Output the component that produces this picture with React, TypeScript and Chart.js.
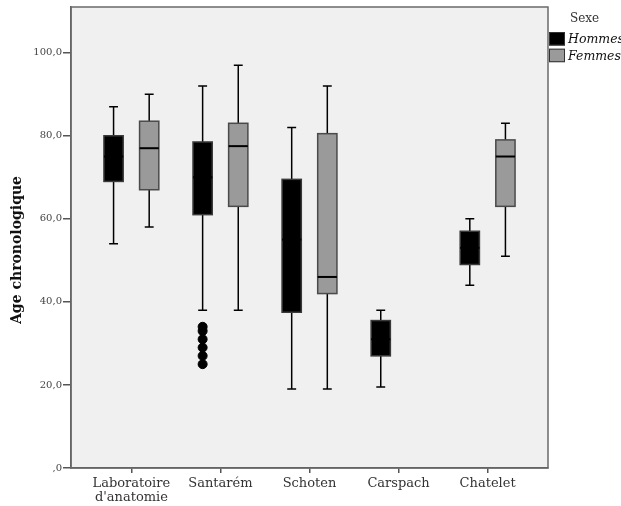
import React, { useEffect, useRef } from "react";
import { Chart, registerables } from "chart.js";

Chart.register(...registerables);

const categories: (string | string[])[] = [["Laboratoire", "d'anatomie"], "Santarém", "Schoten", "Carspach", "Chatelet"];
const yTickValues = [0, 20, 40, 60, 80, 100];

const hommesMin = [54, 38, 19, 19.5, 44];
const hommesQ1 = [69, 61, 37.5, 27, 49];
const hommesMedian = [75, 70, 55, 31, 53];
const hommesQ3 = [80, 78.5, 69.5, 35.5, 57];
const hommesMax = [87, 92, 82, 38, 60];

const femmesMin: (number | null)[] = [58, 38, 19, null, 51];
const femmesQ1: (number | null)[] = [67, 63, 42, null, 63];
const femmesMedian: (number | null)[] = [77, 77.5, 46, null, 75];
const femmesQ3: (number | null)[] = [83.5, 83, 80.5, null, 79];
const femmesMax: (number | null)[] = [90, 97, 92, null, 83];

const hommesOutlierCategory = 1;
const hommesOutliers = [34, 33, 31, 29, 27, 25];

const legendTitle = "Sexe";
const seriesNames = ["Hommes", "Femmes"];

const GROUP_OFFSET = 0.2;
const BOX_HALF = 0.108;
const CAP_HALF = 0.05;
const FONT = "'DejaVu Serif', 'Liberation Serif', serif";

const boxPlugin = {
  id: "boxes",
  beforeDraw(chart: any) {
    const { ctx, chartArea: a } = chart;
    ctx.save();
    ctx.fillStyle = "#f0f0f0";
    ctx.fillRect(a.left, a.top, a.right - a.left, a.bottom - a.top);
    ctx.restore();
  },
  beforeDatasetsDraw(chart: any) {
    const { ctx, chartArea: a } = chart;
    const xs = chart.scales.x;
    const ys = chart.scales.y;
    const drawBox = (
      cx: number,
      mn: number, q1: number, med: number, q3: number, mx: number,
      fill: string, stroke: string
    ) => {
      const px = xs.getPixelForValue(cx);
      const l = xs.getPixelForValue(cx - BOX_HALF);
      const r = xs.getPixelForValue(cx + BOX_HALF);
      const cl = xs.getPixelForValue(cx - CAP_HALF);
      const cr = xs.getPixelForValue(cx + CAP_HALF);
      const yMin = ys.getPixelForValue(mn);
      const yMax = ys.getPixelForValue(mx);
      const yQ1 = ys.getPixelForValue(q1);
      const yQ3 = ys.getPixelForValue(q3);
      const yMed = ys.getPixelForValue(med);
      ctx.strokeStyle = "#000";
      ctx.lineWidth = 1.5;
      ctx.beginPath();
      ctx.moveTo(px, yMax); ctx.lineTo(px, yQ3);
      ctx.moveTo(px, yQ1); ctx.lineTo(px, yMin);
      ctx.moveTo(cl, yMax); ctx.lineTo(cr, yMax);
      ctx.moveTo(cl, yMin); ctx.lineTo(cr, yMin);
      ctx.stroke();
      ctx.fillStyle = fill;
      ctx.fillRect(l, yQ3, r - l, yQ1 - yQ3);
      ctx.strokeStyle = stroke;
      ctx.lineWidth = 1.5;
      ctx.strokeRect(l, yQ3, r - l, yQ1 - yQ3);
      ctx.strokeStyle = "#000";
      ctx.lineWidth = 2;
      ctx.beginPath();
      ctx.moveTo(l, yMed); ctx.lineTo(r, yMed);
      ctx.stroke();
    };
    ctx.save();
    ctx.beginPath();
    ctx.rect(a.left, a.top, a.right - a.left, a.bottom - a.top);
    ctx.clip();
    for (let i = 0; i < categories.length; i++) {
      drawBox(i - GROUP_OFFSET, hommesMin[i], hommesQ1[i], hommesMedian[i], hommesQ3[i], hommesMax[i], "#000000", "#3a3a3a");
      if (femmesQ1[i] !== null) {
        drawBox(i + GROUP_OFFSET, femmesMin[i] as number, femmesQ1[i] as number, femmesMedian[i] as number, femmesQ3[i] as number, femmesMax[i] as number, "#9a9a9a", "#4a4a4a");
      }
    }
    ctx.restore();
  },
  afterDraw(chart: any) {
    const { ctx, chartArea: a } = chart;
    ctx.save();
    ctx.strokeStyle = "#6a6a6a";
    ctx.lineWidth = 1.5;
    ctx.strokeRect(a.left, a.top, a.right - a.left, a.bottom - a.top);
    ctx.fillStyle = "#111";
    ctx.font = `bold 14px ${FONT}`;
    ctx.textAlign = "center";
    ctx.textBaseline = "middle";
    ctx.translate(17, 250);
    ctx.rotate(-Math.PI / 2);
    ctx.fillText("Age chronologique", 0, 0);
    ctx.restore();
    ctx.save();
    ctx.fillStyle = "#333";
    ctx.font = `12px ${FONT}`;
    ctx.textAlign = "left";
    ctx.textBaseline = "alphabetic";
    ctx.fillText(legendTitle, 570, 22);
    const fills = ["#000000", "#9a9a9a"];
    for (let k = 0; k < seriesNames.length; k++) {
      const y = 32 + k * 16.7;
      ctx.fillStyle = fills[k];
      ctx.fillRect(549, y, 16, 13.5);
      ctx.strokeStyle = "#333";
      ctx.lineWidth = 1;
      ctx.strokeRect(549.5, y + 0.5, 15, 12.5);
      ctx.fillStyle = "#111";
      ctx.font = `italic 12.5px ${FONT}`;
      ctx.fillText(seriesNames[k], 568, y + 11);
    }
    ctx.restore();
  },
};

export default function App() {
  const ref = useRef<HTMLCanvasElement | null>(null);
  useEffect(() => {
    if (!ref.current) return;
    const chart = new Chart(ref.current, {
      type: "scatter",
      data: {
        datasets: [
          {
            label: "Hommes outliers",
            data: hommesOutliers.map((v) => ({ x: hommesOutlierCategory - GROUP_OFFSET, y: v })),
            backgroundColor: "#000",
            borderColor: "#000",
            pointRadius: 4.5,
            pointHoverRadius: 4.5,
          },
        ],
      },
      options: {
        animation: false,
        responsive: true,
        maintainAspectRatio: false,
        layout: { padding: { top: 7, right: 73, left: 0, bottom: 0 } },
        plugins: { legend: { display: false }, tooltip: { enabled: false } },
        scales: {
          x: {
            type: "linear",
            min: -0.678,
            max: 4.678,
            afterBuildTicks: (s: any) => {
              s.ticks = categories.map((_, i) => ({ value: i }));
            },
            afterFit: (s: any) => {
              s.height = 38;
            },
            grid: { display: true, drawOnChartArea: false, drawTicks: true, tickLength: 5, color: "#555", lineWidth: 1.5 },
            border: { display: true, color: "#555", width: 1.5 },
            ticks: {
              autoSkip: false,
              maxRotation: 0,
              padding: 3,
              color: "#333",
              font: { family: FONT, size: 13, lineHeight: 1.1 },
              callback: (v: any) => categories[Math.round(Number(v))] as any,
            },
          },
          y: {
            type: "linear",
            min: 0,
            max: 111,
            afterBuildTicks: (s: any) => {
              s.ticks = yTickValues.map((v) => ({ value: v }));
            },
            afterFit: (s: any) => {
              s.width = 71;
            },
            grid: { display: true, drawOnChartArea: false, drawTicks: true, tickLength: 8, color: "#555", lineWidth: 1.5 },
            border: { display: true, color: "#555", width: 1.5 },
            ticks: {
              padding: 1,
              color: "#444",
              font: { family: FONT, size: 10 },
              callback: (v: any) => {
                const n = Number(v);
                return n === 0 ? ",0" : n.toFixed(1).replace(".", ",");
              },
            },
          },
        },
      },
      plugins: [boxPlugin],
    });
    return () => chart.destroy();
  }, []);
  return (
    <div style={{ position: "fixed", left: 0, top: 0, width: 621, height: 506, background: "#fff" }}>
      <canvas ref={ref} />
    </div>
  );
}
